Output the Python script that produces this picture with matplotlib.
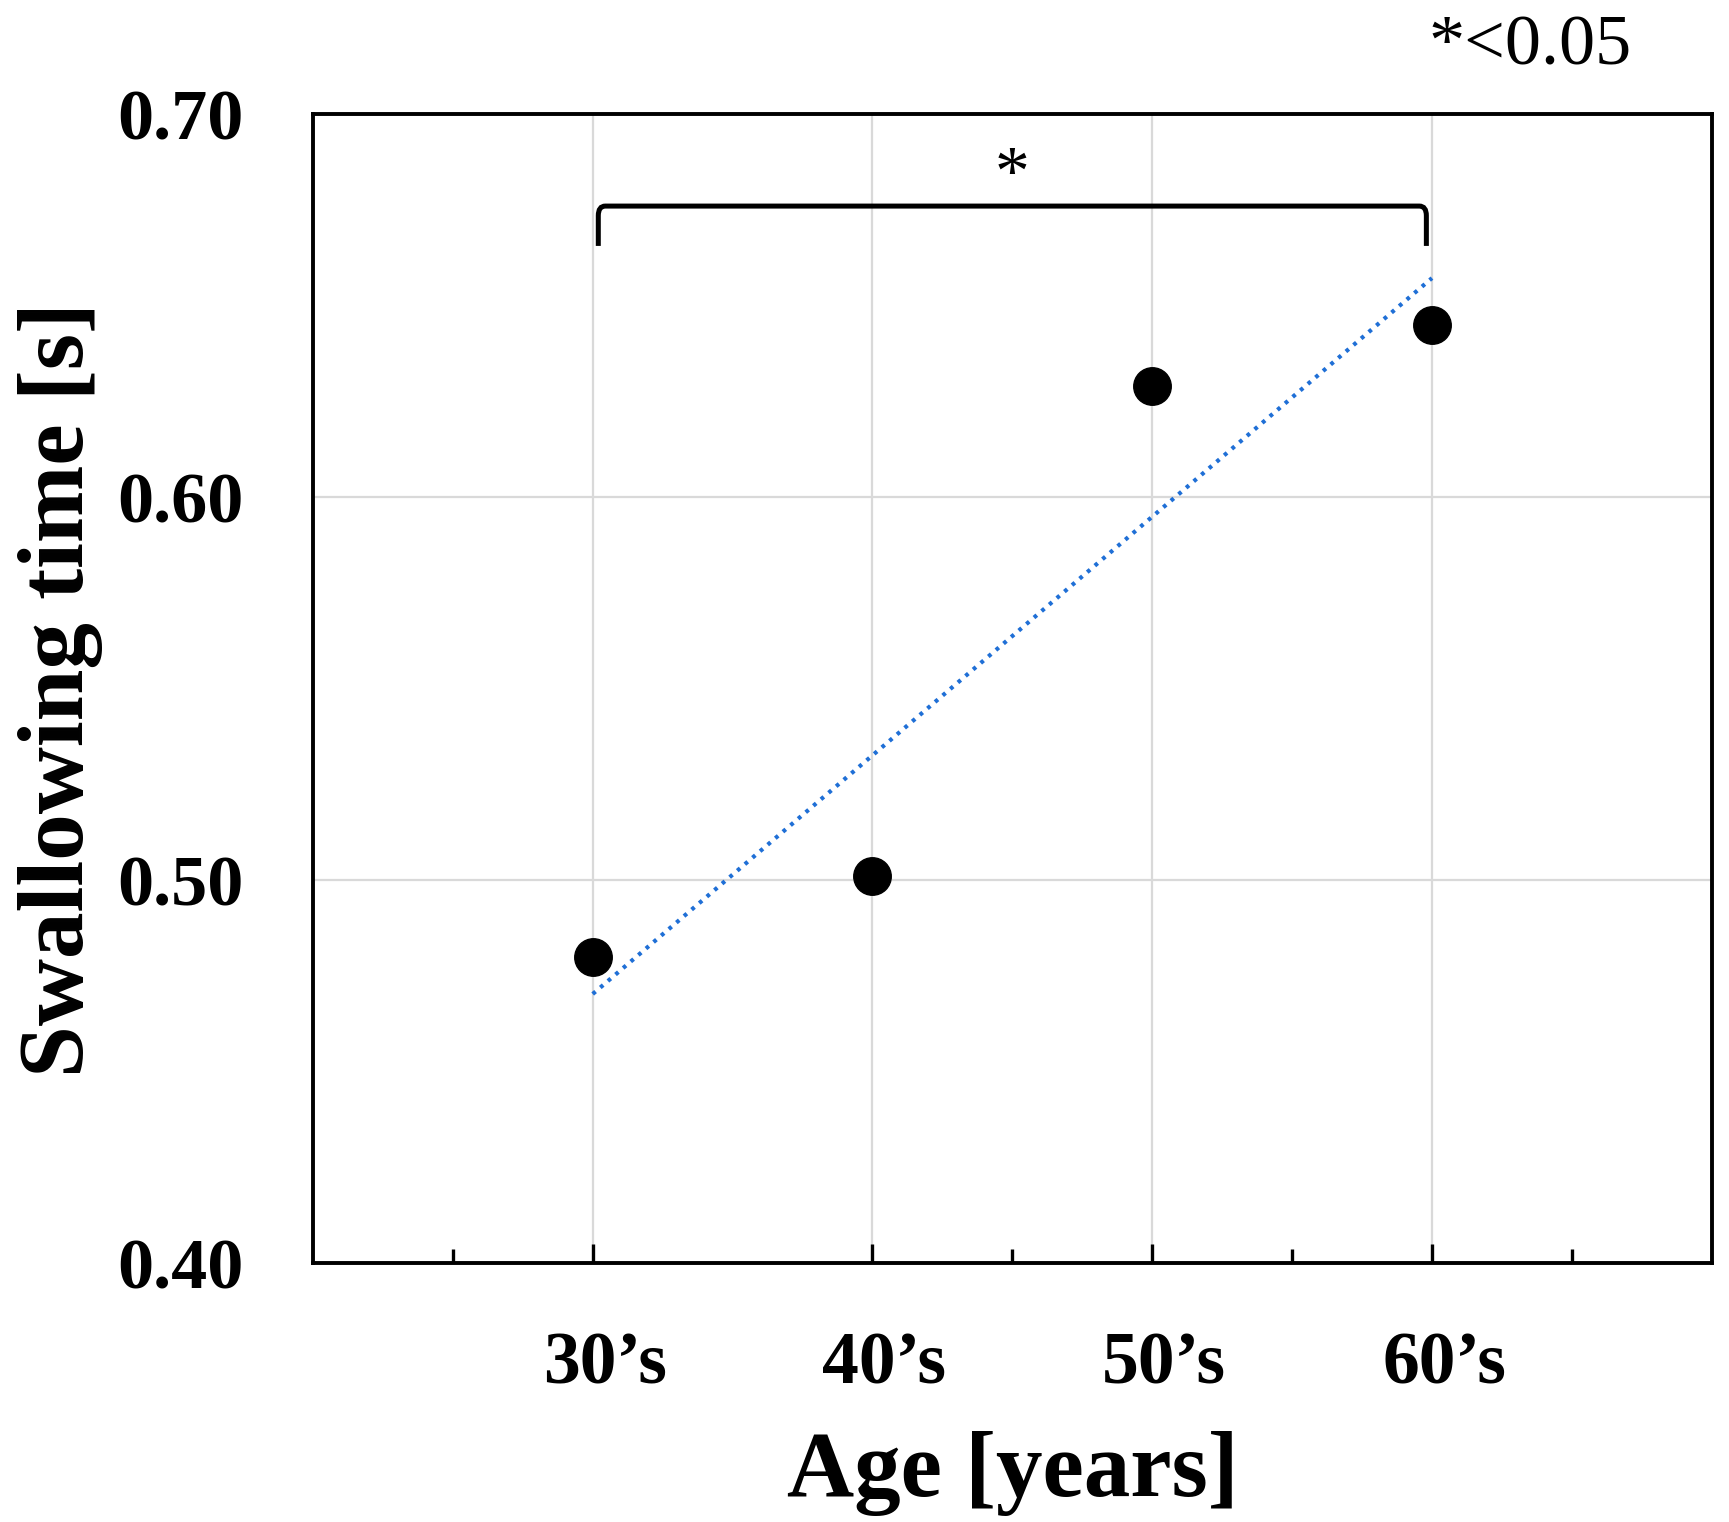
import matplotlib
matplotlib.use("Agg")
import matplotlib.pyplot as plt
import numpy as np
from matplotlib.path import Path
from matplotlib.patches import PathPatch
from matplotlib.transforms import ScaledTranslation

# data
age_groups = ["30’s", "40’s", "50’s", "60’s"]
swallow_time = [0.480, 0.501, 0.629, 0.645]
y_ticks = [0.40, 0.50, 0.60, 0.70]
minor_x = [0.5, 2.5, 3.5, 4.5]

plt.rcParams["font.family"] = ["Liberation Serif", "DejaVu Serif"]

x = np.arange(1, len(age_groups) + 1)
y = np.array(swallow_time)

fig = plt.figure(figsize=(17.29, 15.22), dpi=100)
ax = fig.add_axes([0.181, 0.170, 0.809, 0.755])
ax.set_xlim(0, 5)
ax.set_ylim(0.40, 0.70)

ax.set_axisbelow(True)
ax.grid(True, which="major", color="#d9d9d9", lw=1.6)

# linear trend line
slope, icpt = np.polyfit(x, y, 1)
ax.plot(x[[0, -1]], icpt + slope * x[[0, -1]], color="#1f6fd6", lw=3.0,
        linestyle=(0, (0.9, 1.5)), zorder=2)

ax.plot(x, y, "o", color="black", markersize=27, zorder=3)

# significance bracket between 30's and 60's
top, leg = 0.676, 0.6656
x0, x1 = x[0] + 0.02, x[-1] - 0.02
rx, ry = 0.025, 0.0025
verts = [(x0, leg), (x0, top - ry), (x0, top), (x0 + rx, top),
         (x1 - rx, top), (x1, top), (x1, top - ry), (x1, leg)]
codes = [Path.MOVETO, Path.LINETO, Path.CURVE3, Path.CURVE3,
         Path.LINETO, Path.CURVE3, Path.CURVE3, Path.LINETO]
ax.add_patch(PathPatch(Path(verts, codes), fill=False, lw=3.6,
                       edgecolor="black", capstyle="butt", zorder=3))
ax.text((x[0] + x[-1]) / 2, 0.6835, "*", fontsize=50, ha="center",
        va="center")

for sp in ax.spines.values():
    sp.set_linewidth(2.8)
    sp.set_color("black")

ax.set_xticks(x)
ax.set_xticks(minor_x, minor=True)
ax.set_xticklabels(age_groups, fontsize=53, fontweight="bold")
ax.tick_params(axis="x", which="major", direction="in", length=14,
               width=2.4, pad=49)
ax.tick_params(axis="x", which="minor", direction="in", length=10,
               width=2.4)
shift = ScaledTranslation(0.12, 0, fig.dpi_scale_trans)
for lab in ax.get_xticklabels():
    lab.set_transform(lab.get_transform() + shift)

ax.set_yticks(y_ticks)
ax.set_yticklabels([f"{v:.2f}" for v in y_ticks], fontsize=52,
                   fontweight="bold")
ax.tick_params(axis="y", length=0, pad=50)

fig.text(0.586, 0.032, "Age [years]", fontsize=67, fontweight="bold",
         ha="center", va="center")
fig.text(0.035, 0.547, "Swallowing time [s]", fontsize=67,
         fontweight="bold", rotation=90, ha="center", va="center")
fig.text(0.826, 0.969, "*<0.05", fontsize=52, ha="left", va="center")

fig.savefig("out.png", dpi=100)
